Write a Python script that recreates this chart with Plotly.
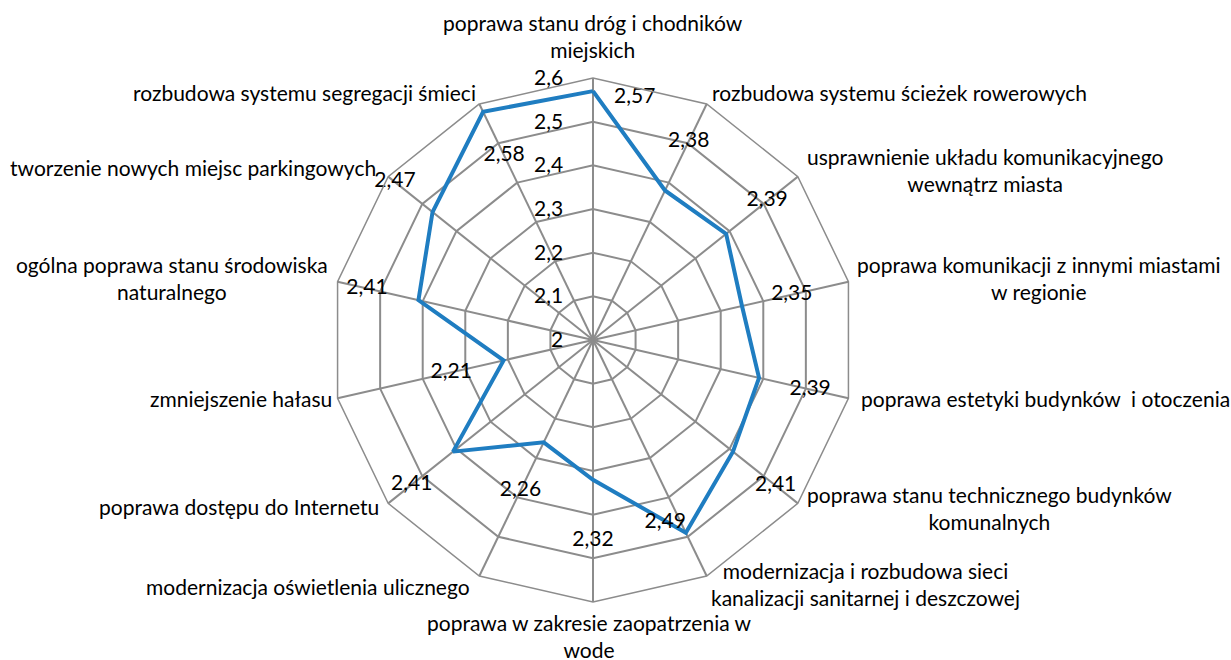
import plotly.graph_objects as go

categories = [
    "poprawa stanu dróg i chodników<br>miejskich",
    "rozbudowa systemu ścieżek rowerowych",
    "usprawnienie układu komunikacyjnego<br>wewnątrz miasta",
    "poprawa komunikacji z innymi miastami<br>w regionie",
    "poprawa estetyki budynków  i otoczenia",
    "poprawa stanu technicznego budynków<br>komunalnych",
    "modernizacja i rozbudowa sieci<br>kanalizacji sanitarnej i deszczowej",
    "poprawa w zakresie zaopatrzenia w<br>wode",
    "modernizacja oświetlenia ulicznego",
    "poprawa dostępu do Internetu",
    "zmniejszenie hałasu",
    "ogólna poprawa stanu środowiska<br>naturalnego",
    "tworzenie nowych miejsc parkingowych",
    "rozbudowa systemu segregacji śmieci",
]
values = [2.57, 2.38, 2.39, 2.35, 2.39, 2.41, 2.49, 2.32, 2.26, 2.41, 2.21, 2.41, 2.47, 2.58]
tick_vals = [2.0, 2.1, 2.2, 2.3, 2.4, 2.5, 2.6]

# ---- style: data-label placement (radial offset from each point + text position)
label_offsets = [-0.015, 0.125, 0.12, 0.117, 0.12, 0.125, 0.0, 0.14, 0.123, 0.121, 0.123, 0.121, 0.11, -0.111]
label_positions = (["middle right"] + ["middle center"] * 5 + ["top left"]
                   + ["middle center"] * 7)
label_prefix = ["\u2002\u2002"] + [""] * 13

# ---- style: category label placement in page pixels (x, y, xanchor)
cat_label_pos = [
    (593, 36, "center"),
    (711, 93, "left"),
    (806, 170, "left"),
    (856, 278, "left"),
    (860, 398, "left"),
    (806, 508, "left"),
    (710, 584, "left"),
    (589, 636, "center"),
    (471, 586, "right"),
    (380, 506, "right"),
    (333, 398, "right"),
    (329, 278, "right"),
    (377, 168, "right"),
    (477, 93, "right"),
]

FONT = "Lato"
BLUE = "#1F7DC1"
GRID = "#8C8C8C"
W, H = 1231, 660
R = 262
cx, cy = 593, 340   # polar centre in page pixels

fig = go.Figure()
fig.add_trace(go.Scatterpolar(
    r=values + values[:1],
    theta=categories + categories[:1],
    mode="lines",
    line=dict(color=BLUE, width=4),
    hoverinfo="skip",
    showlegend=False,
))
fig.add_trace(go.Scatterpolar(
    r=[v + o for v, o in zip(values, label_offsets)],
    theta=categories,
    mode="text",
    text=[p + f"{v:.2f}".replace(".", ",") for p, v in zip(label_prefix, values)],
    textposition=label_positions,
    textfont=dict(family=FONT, size=21, color="black"),
    cliponaxis=False,
    hoverinfo="skip",
    showlegend=False,
))

for name, (px, py, xa) in zip(categories, cat_label_pos):
    fig.add_annotation(
        x=px / W, y=1 - py / H, xref="paper", yref="paper",
        text=name, showarrow=False, xanchor=xa, yanchor="middle",
        align="center", borderpad=0,
        font=dict(family=FONT, size=21, color="black"),
    )

fig.update_layout(
    width=W, height=H,
    margin=dict(l=0, r=0, t=0, b=0),
    paper_bgcolor="white",
    plot_bgcolor="white",
    separators=", ",
    font=dict(family=FONT, size=21, color="black"),
    polar=dict(
        domain=dict(x=[(cx - R) / W, (cx + R) / W], y=[1 - (cy + R) / H, 1 - (cy - R) / H]),
        bgcolor="white",
        gridshape="linear",
        angularaxis=dict(
            rotation=90,
            direction="clockwise",
            showgrid=True,
            gridcolor=GRID,
            gridwidth=1.5,
            linecolor=GRID,
            linewidth=1.5,
            showline=True,
            ticks="",
            showticklabels=False,
        ),
        radialaxis=dict(
            range=[2.0, 2.6],
            tickvals=tick_vals,
            ticktext=[f"{t:.1f}".replace(".", ",").replace(",0", "") for t in tick_vals],
            showline=False,
            showgrid=True,
            gridcolor=GRID,
            gridwidth=1.5,
            ticks="outside",
            ticklen=22,
            tickcolor="rgba(0,0,0,0)",
            angle=90,
            tickangle=90,
            side="counterclockwise",
            tickfont=dict(family=FONT, size=21, color="black"),
        ),
    ),
)
fig.write_html(
    "out.html",
    config={"displayModeBar": False},
    post_script="document.body.style.margin='0px';document.body.style.overflow='hidden';",
)
